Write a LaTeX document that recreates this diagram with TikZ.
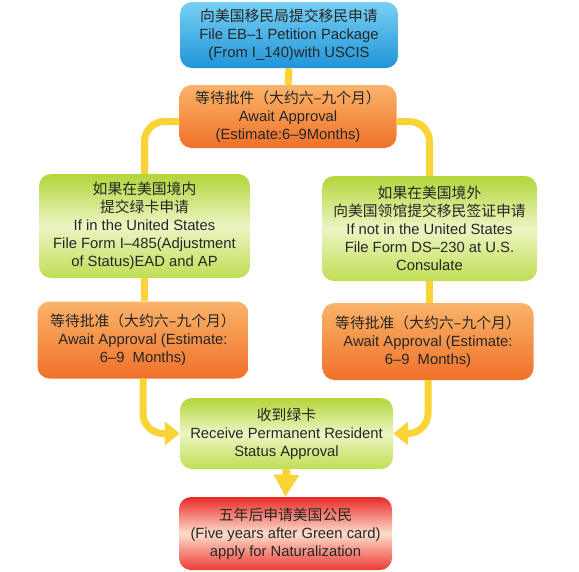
\documentclass[tikz,border=0pt]{standalone}
\usepackage{fontspec}
\setmainfont{Liberation Sans}
\newfontfamily\cjk{Noto Sans CJK SC}
\usetikzlibrary{arrows.meta}
\definecolor{skytop}{RGB}{120,208,244}
\definecolor{skybot}{RGB}{32,148,216}
\definecolor{peachtop}{RGB}{250,180,105}
\definecolor{peachbot}{RGB}{240,112,42}
\definecolor{limetop}{RGB}{178,214,58}
\definecolor{limemid}{RGB}{236,245,196}
\definecolor{limebot}{RGB}{192,222,84}
\definecolor{redtop}{RGB}{232,42,40}
\definecolor{redmid}{RGB}{252,222,204}
\definecolor{redbot}{RGB}{236,58,52}
\definecolor{pathyellow}{RGB}{250,212,55}
\newcommand{\zh}[1]{{\cjk #1}}
\tikzset{
  box/.style={rounded corners=12pt,inner sep=3pt,align=center,text=black!85,
              font=\fontsize{14.8}{18}\selectfont},
  submit/.style={box,top color=skytop,bottom color=skybot},
  waiting/.style={box,top color=peachtop,bottom color=peachbot},
  branch/.style={box,top color=limetop,bottom color=limebot,middle color=limemid},
  final/.style={box,top color=redtop,bottom color=redbot,middle color=redmid},
  link/.style={pathyellow,line width=7pt,rounded corners=20pt},
  push/.style={link,-{Triangle[length=15pt,width=23pt]}},
  drop/.style={link,line width=8pt,-{Triangle[length=22pt,width=24pt]}},
}

\begin{document}
\begin{tikzpicture}[x=1pt,y=-1pt]
  \path[use as bounding box] (0,0) rectangle (579,571);

  \node[submit,minimum width=218pt,minimum height=66pt] (petition) at (289,35)
    {\zh{向美国移民局提交移民申请}\\File EB–1 Petition Package\\(From I\_140)with USCIS};
  \node[waiting,minimum width=217pt,minimum height=63pt] (await) at (288,116.5)
    {\zh{等待批件（大约六–九个月）}\\Await Approval\\(Estimate:6–9Months)};

  \node[branch,minimum width=211pt,minimum height=104pt] (inside) at (144.5,226)
    {\zh{如果在美国境内}\\\zh{提交绿卡申请}\\If in the United States\\File Form I–485(Adjustment\\of Status)EAD and AP};
  \node[branch,minimum width=215pt,minimum height=105pt] (outside) at (429.5,228.5)
    {\zh{如果在美国境外}\\\zh{向美国领馆提交移民签证申请}\\If not in the United States\\File Form DS–230 at U.S.\\Consulate};

  \foreach \name/\x/\y in {inwait/143/340,outwait/428/341.5}{
    \node[waiting,minimum width=211pt,minimum height=77pt] (\name) at (\x,\y)
      {\zh{等待批准（大约六–九个月）}\\Await Approval (Estimate:\\6–9\ \ Months)};
  }

  \node[branch,minimum width=213pt,minimum height=71pt] (receive) at (286.5,433.5)
    {\zh{收到绿卡}\\Receive Permanent Resident\\Status Approval};
  \node[final,minimum width=213pt,minimum height=73pt] (citizen) at (285.5,533.5)
    {\zh{五年后申请美国公民}\\(Five years after Green card)\\apply for Naturalization};

  % yellow paths
  \draw[link] (petition.south) -- (await.north);
  \draw[link] ([yshift=-5pt]await.west) -| (inside.north);
  \draw[link] ([yshift=-5pt]await.east) -| (outside.north);
  \draw[link] (inside.south) -- (inside.south |- inwait.north);
  \draw[link] (outside.south) -- (outside.south |- outwait.north);
  \draw[push] (inwait.south) |- (receive.west);
  \draw[push] (outwait.south) |- (receive.east);
  \draw[drop] (receive.south) -- (citizen.north);
\end{tikzpicture}
\end{document}
